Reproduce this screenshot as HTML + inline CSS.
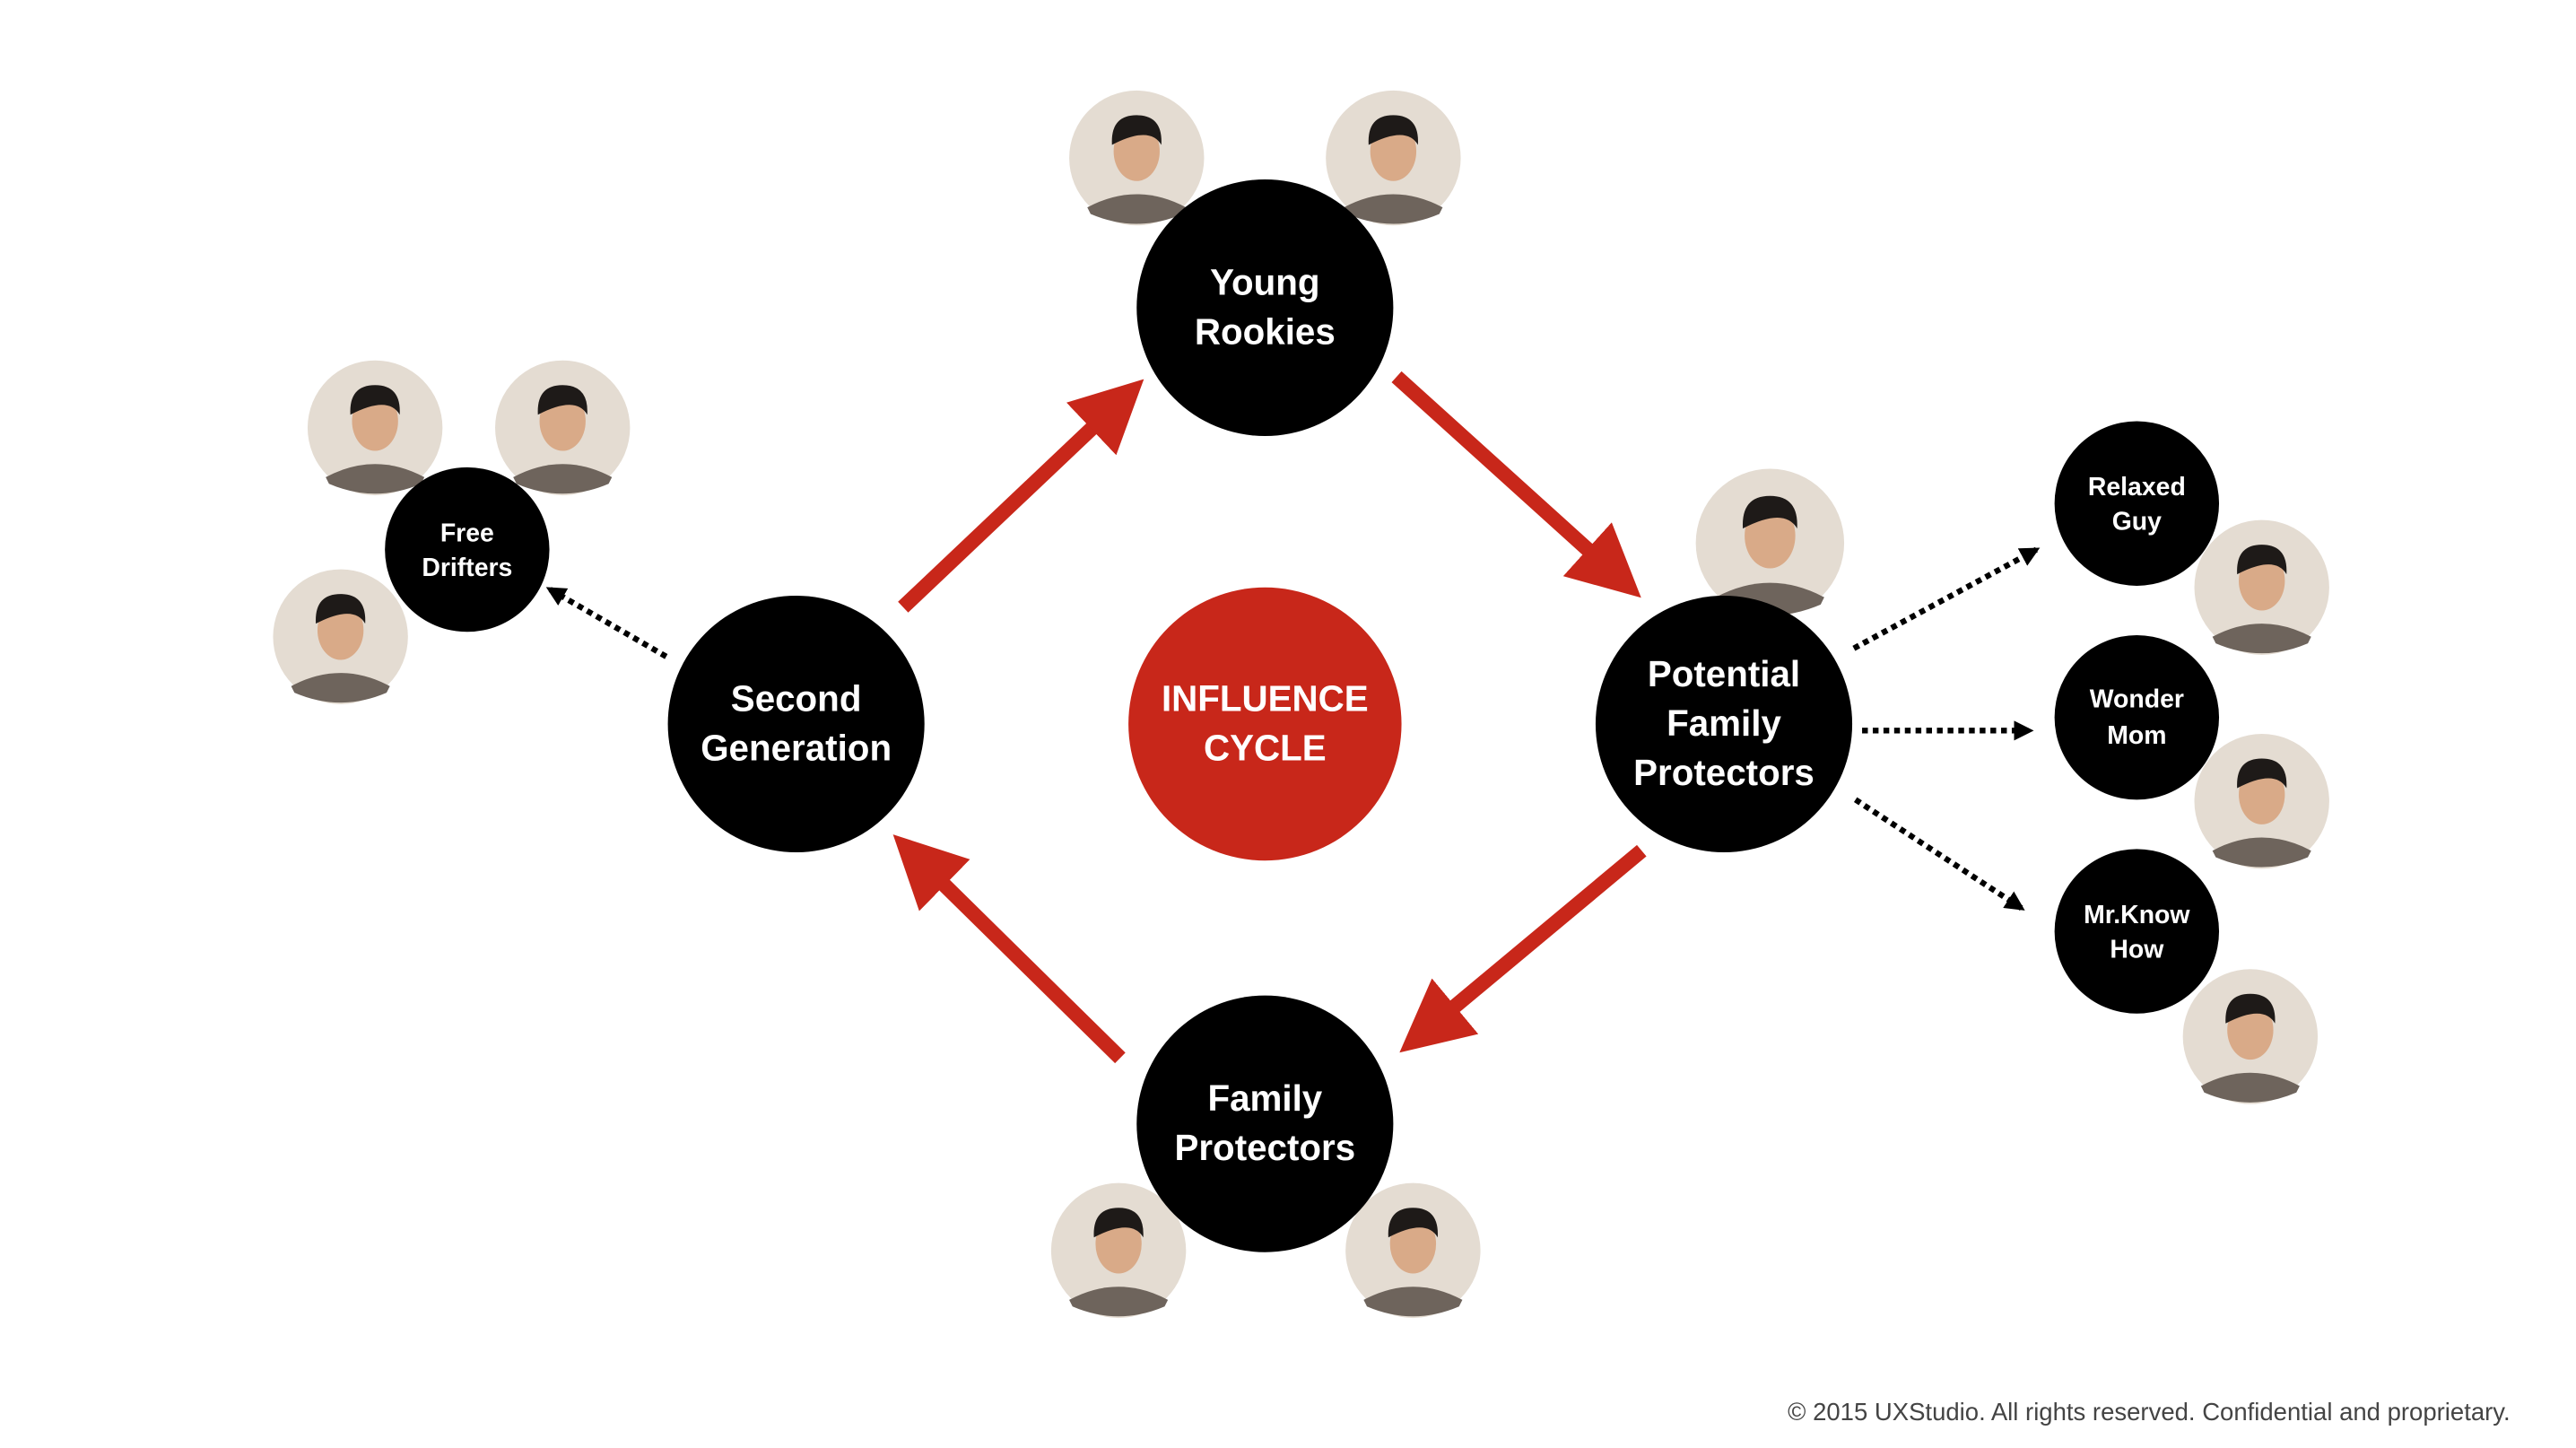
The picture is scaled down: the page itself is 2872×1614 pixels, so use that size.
<!DOCTYPE html>
<html><head><meta charset="utf-8"><style>
html,body{margin:0;padding:0;background:#fff;}
svg{display:block;}
text{font-family:"Liberation Sans",sans-serif;font-weight:bold;fill:#fff;text-anchor:middle;}
</style></head><body>
<svg width="2872" height="1614" viewBox="0 0 1566 880" xmlns="http://www.w3.org/2000/svg">
<defs>
<marker id="rh" viewBox="0 0 10 10" refX="5.5" refY="5" markerWidth="44" markerHeight="44" markerUnits="userSpaceOnUse" orient="auto"><path d="M0,0 L10,5 L0,10 z" fill="#c8271a"/></marker>
<marker id="bh" viewBox="0 0 10 10" refX="8" refY="5" markerWidth="12" markerHeight="12" markerUnits="userSpaceOnUse" orient="auto"><path d="M0,0 L10,5 L0,10 z" fill="#000"/></marker>
<g id="face">
<circle r="41" fill="#e4dcd2"/>
<path d="M-30,30 Q0,14 30,30 L28,34 Q0,46 -28,34z" fill="#6e645c"/>
<ellipse cx="0" cy="-4" rx="14" ry="18" fill="#d9aa88"/>
<path d="M-15,-8 Q-16,-26 0,-26 Q16,-26 15,-8 Q8,-20 -15,-8z" fill="#1e1a18"/>
</g>
</defs>
<use href="#face" x="691" y="96"/><use href="#face" x="847" y="96"/>
<use href="#face" x="228" y="260"/><use href="#face" x="342" y="260"/>
<use href="#face" x="207" y="387"/>
<g transform="translate(1076,330) scale(1.1)"><use href="#face"/></g>
<use href="#face" x="1375" y="357"/><use href="#face" x="1375" y="487"/>
<use href="#face" x="1368" y="630"/>
<use href="#face" x="680" y="760"/><use href="#face" x="859" y="760"/>
<g stroke="#c8271a" stroke-width="9" fill="none">
<line x1="549" y1="369" x2="681" y2="244" marker-end="url(#rh)"/>
<line x1="849" y1="229" x2="983" y2="350" marker-end="url(#rh)"/>
<line x1="998" y1="517" x2="866" y2="627" marker-end="url(#rh)"/>
<line x1="681" y1="643" x2="557" y2="521" marker-end="url(#rh)"/>
</g>
<g stroke="#000" stroke-width="3.5" stroke-dasharray="3.5 3" fill="none">
<line x1="405" y1="399" x2="334" y2="358" marker-end="url(#bh)"/>
<line x1="1127" y1="394" x2="1238" y2="334" marker-end="url(#bh)"/>
<line x1="1132" y1="444" x2="1234" y2="444" marker-end="url(#bh)"/>
<line x1="1128" y1="486" x2="1229" y2="552" marker-end="url(#bh)"/>
</g>
<circle cx="769" cy="187" r="78"/>
<circle cx="769" cy="440" r="83" fill="#c8271a"/>
<circle cx="484" cy="440" r="78"/>
<circle cx="1048" cy="440" r="78"/>
<circle cx="769" cy="683" r="78"/>
<circle cx="284" cy="334" r="50"/>
<circle cx="1299" cy="306" r="50"/>
<circle cx="1299" cy="436" r="50"/>
<circle cx="1299" cy="566" r="50"/>
<g font-size="22">
<text x="769" y="179">Young</text><text x="769" y="209">Rookies</text>
<text x="769" y="432">INFLUENCE</text><text x="769" y="462">CYCLE</text>
<text x="484" y="432">Second</text><text x="484" y="462">Generation</text>
<text x="1048" y="417">Potential</text><text x="1048" y="447">Family</text><text x="1048" y="477">Protectors</text>
<text x="769" y="675">Family</text><text x="769" y="705">Protectors</text>
</g>
<g font-size="15.5">
<text x="284" y="329">Free</text><text x="284" y="350">Drifters</text>
<text x="1299" y="301">Relaxed</text><text x="1299" y="322">Guy</text>
<text x="1299" y="430">Wonder</text><text x="1299" y="452">Mom</text>
<text x="1299" y="561">Mr.Know</text><text x="1299" y="582">How</text>
</g>
<text x="1526" y="863" font-size="15" style="font-weight:normal;fill:#444;text-anchor:end">© 2015 UXStudio. All rights reserved. Confidential and proprietary.</text>
</svg>
</body></html>
